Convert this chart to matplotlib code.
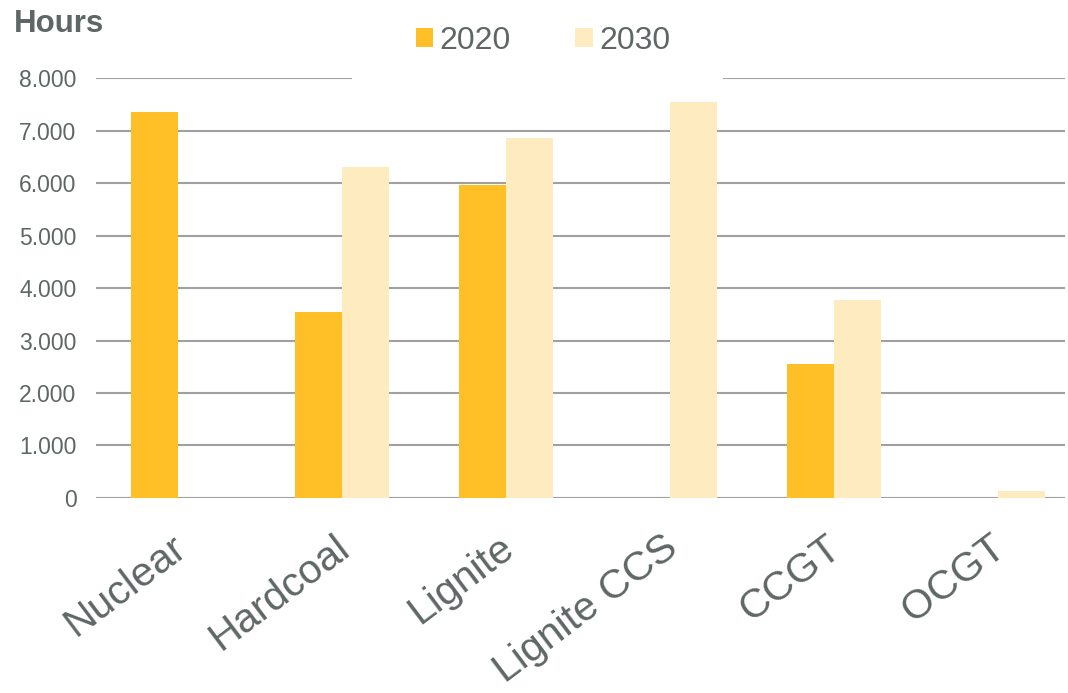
import matplotlib.pyplot as plt
import matplotlib.transforms as mtransforms
import numpy as np
from matplotlib.patches import Rectangle

plt.rcParams['font.family'] = ['Liberation Sans', 'DejaVu Sans']

# values
categories = ['Nuclear', 'Hardcoal', 'Lignite', 'Lignite CCS', 'CCGT', 'OCGT']
hours_2020 = [7350, 3550, 5970, 0, 2550, 0]
hours_2030 = [0, 6300, 6850, 7550, 3780, 130]
y_ticks = [0, 1000, 2000, 3000, 4000, 5000, 6000, 7000, 8000]
y_tick_labels = ['0', '1.000', '2.000', '3.000', '4.000', '5.000', '6.000', '7.000', '8.000']

text_color = '#5f6766'
grid_color = '#a0a0a0'
c2020 = '#ffc027'
c2030 = '#ffebc0'

fig = plt.figure(figsize=(10.68, 6.93), dpi=100)
# last category is cut off by the right edge in the original
ax = fig.add_axes([96 / 1068, 0.2814, 969 / 1068, 0.6060])

x = np.arange(len(categories))
w = 0.287
ax.bar(x - w / 2, hours_2020, w, color=c2020, label='2020', zorder=3)
ax.bar(x + w / 2, hours_2030, w, color=c2030, label='2030', zorder=3)

ax.set_xlim(-0.5, 5.41)
ax.set_ylim(0, 8000)
ax.set_yticks(y_ticks)
ax.set_yticklabels(y_tick_labels, fontsize=16.5, color=text_color)
ax.yaxis.grid(True, color=grid_color, linewidth=1.5, zorder=0)
ax.set_axisbelow(True)
for s in ax.spines.values():
    s.set_visible(False)
ax.tick_params(axis='y', length=0, pad=14)
ax.tick_params(axis='x', length=0, pad=18)

ax.set_xticks(x)
ax.set_xticklabels(categories, fontsize=29.5, color=text_color, rotation=37,
                   ha='right', rotation_mode='anchor')
shift = mtransforms.ScaledTranslation(-8 / 100, -5 / 100, fig.dpi_scale_trans)
for lbl in ax.get_xticklabels():
    lbl.set_transform(lbl.get_transform() + shift)

fig.text(14 / 1068, 1 - 24 / 693, 'Hours', fontsize=22.5, fontweight='bold',
         color=text_color, ha='left', va='center')

# white patch behind the legend that hides the top gridline
fig.patches.append(Rectangle((352 / 1068, 1 - 95 / 693), 371 / 1068, 95 / 693,
                             transform=fig.transFigure, facecolor='white',
                             edgecolor='none', zorder=5))

leg = fig.legend(loc='center', bbox_to_anchor=(543 / 1068, 1 - 41 / 693), ncol=2,
                 frameon=False, fontsize=23, handlelength=0.55, handleheight=0.55,
                 handletextpad=0.2, columnspacing=2.0, borderpad=0)
for t in leg.get_texts():
    t.set_color(text_color)
leg.set_zorder(6)

fig.savefig('out.png', dpi=100)
